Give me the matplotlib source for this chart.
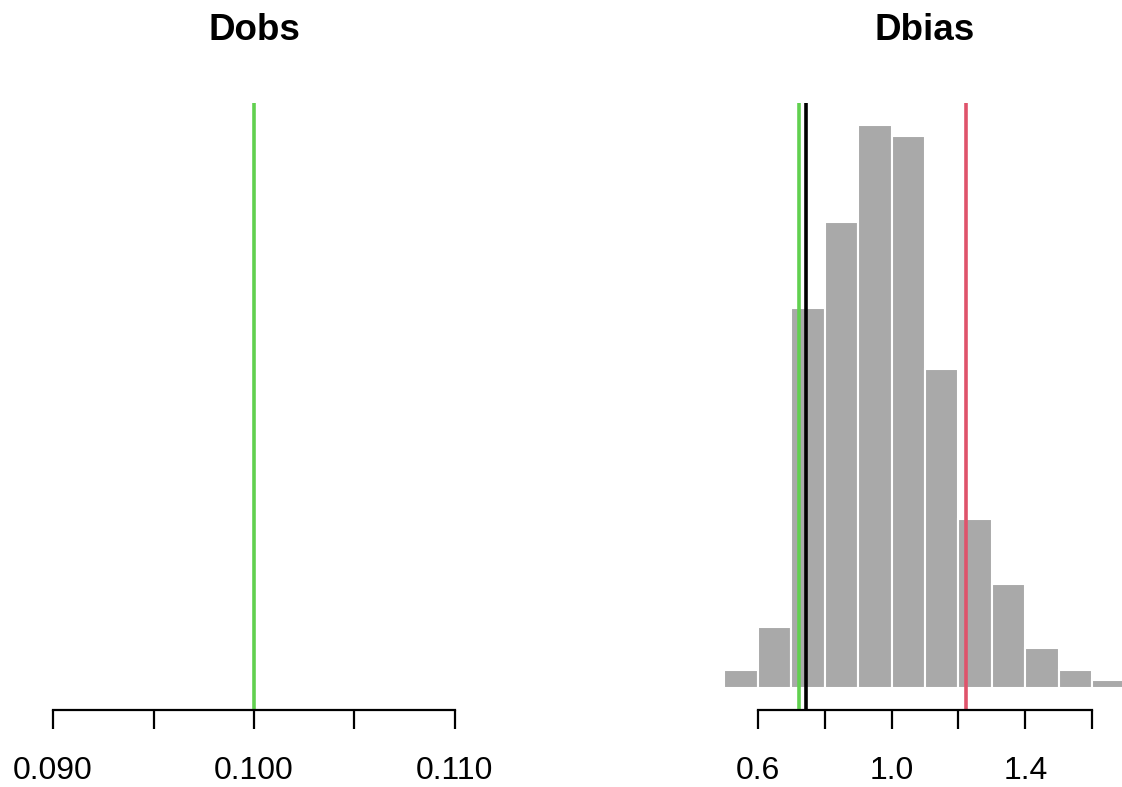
import numpy as np
import matplotlib
matplotlib.use("Agg")
import matplotlib.pyplot as plt

matplotlib.rcParams["font.family"] = ["Liberation Sans", "DejaVu Sans"]

# Dobs: observed value only
dobs_value = 0.100
dobs_ticks = [0.090, 0.095, 0.100, 0.105, 0.110]
dobs_labels = ["0.090", "", "0.100", "", "0.110"]

# Dbias: histogram of simulated values
dbias_edges = [0.5, 0.6, 0.7, 0.8, 0.9, 1.0, 1.1, 1.2, 1.3, 1.4, 1.5, 1.6, 1.7]
dbias_counts = [5, 17, 106, 130, 157, 154, 89, 47, 29, 11, 5, 2]
dbias_ticks = [0.6, 0.8, 1.0, 1.2, 1.4, 1.6]
dbias_labels = ["0.6", "", "1.0", "", "1.4", ""]
dbias_lines = {"green": 0.723, "black": 0.746, "red": 1.221}

line_colors = {"green": "#61D04F", "black": "#000000", "red": "#DF536B"}

W, H = 1122, 787
fig = plt.figure(figsize=(W / 100, H / 100), dpi=100)


def px_axes(x0, x1, y_top, y_bot):
    return fig.add_axes([x0 / W, 1 - y_bot / H, (x1 - x0) / W, (y_bot - y_top) / H])


def style_axis(ax, ticks, labels):
    for side in ["top", "right", "left"]:
        ax.spines[side].set_visible(False)
    ax.spines["bottom"].set_bounds(ticks[0], ticks[-1])
    ax.spines["bottom"].set_linewidth(1.6)
    ax.set_yticks([])
    ax.set_xticks(ticks)
    ax.set_xticklabels(labels)
    ax.tick_params(axis="x", length=14, width=1.6, pad=19, labelsize=23)


# left panel
ax1 = px_axes(37, 471, 103, 710)
ax1.set_xlim(0.0892, 0.1108)
ax1.set_ylim(0, 1)
ax1.axvline(dobs_value, color=line_colors["green"], lw=2.6)
style_axis(ax1, dobs_ticks, dobs_labels)
ax1.set_title("Dobs", fontsize=26.5, fontweight="bold", pad=45)

# right panel (extends past the right edge of the figure)
ax2 = px_axes(708, 1142, 103, 710)
ax2.set_xlim(0.452, 1.748)
ymax = max(dbias_counts)
ax2.set_ylim(-0.04 * ymax, 1.04 * ymax)
ax2.bar(dbias_edges[:-1], dbias_counts, width=np.diff(dbias_edges), align="edge",
        color="#A9A9A9", edgecolor="white", linewidth=1.5)
for name, x in dbias_lines.items():
    ax2.axvline(x, color=line_colors[name], lw=2.6)
style_axis(ax2, dbias_ticks, dbias_labels)
ax2.set_title("Dbias", fontsize=26.5, fontweight="bold", pad=45)

fig.savefig("out.png", dpi=100)
